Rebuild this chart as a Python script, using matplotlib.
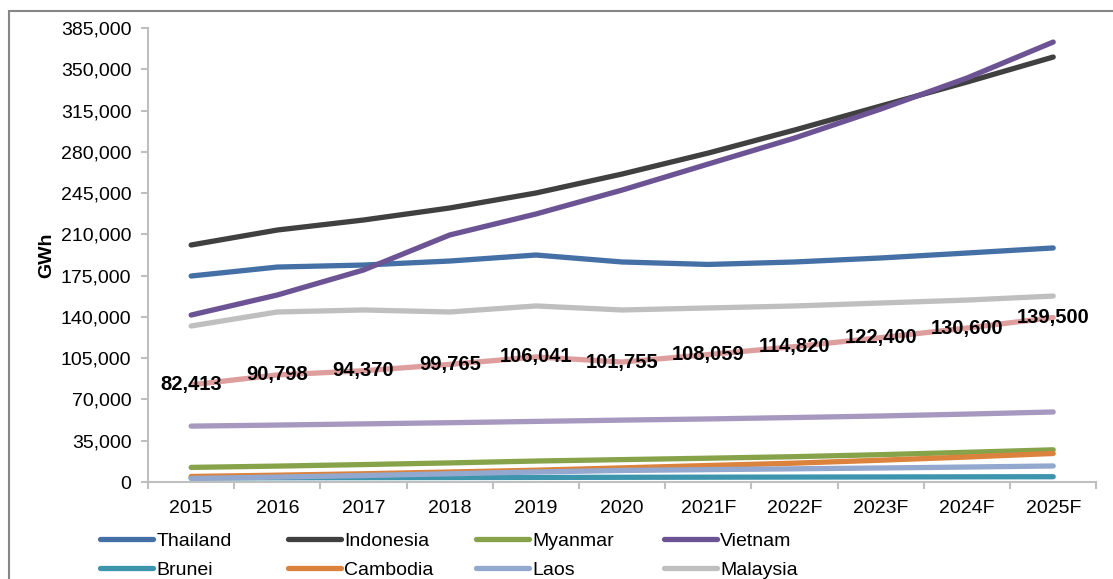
import matplotlib
matplotlib.use("Agg")
import matplotlib.pyplot as plt
from matplotlib.patches import Rectangle
from matplotlib.ticker import FuncFormatter

plt.rcParams['font.family'] = ['Liberation Sans', 'DejaVu Sans']

years = ['2015', '2016', '2017', '2018', '2019', '2020',
         '2021F', '2022F', '2023F', '2024F', '2025F']

thailand = [174700, 182300, 184000, 187400, 192500, 186600,
            184500, 186600, 190000, 194200, 198500]
indonesia = [201000, 213700, 222200, 232400, 245100, 261200,
             279000, 298500, 318900, 339200, 360400]
myanmar = [12400, 13500, 14800, 16200, 17800, 19000,
           20200, 21500, 23200, 25200, 27300]
vietnam = [141600, 158600, 179800, 209500, 227300, 247600,
           269700, 291700, 316300, 342600, 373100]
brunei = [3500, 3600, 3700, 3800, 3900, 4000,
          4100, 4200, 4300, 4400, 4500]
cambodia = [4700, 5800, 7000, 8500, 10000, 12000,
            14000, 16000, 18500, 21200, 24200]
laos = [3000, 4200, 5500, 7000, 8500, 9800,
        10500, 11200, 11900, 12700, 13600]
malaysia = [132300, 144200, 145900, 144200, 149300, 145900,
            147600, 149300, 151800, 154300, 157700]
philippines = [82413, 90798, 94370, 99765, 106041, 101755,
               108059, 114820, 122400, 130600, 139500]
singapore = [47400, 48300, 49300, 50300, 51400, 52500,
             53500, 54700, 56000, 57600, 59400]

series = [
    ('Thailand', thailand, '#4470A6'),
    ('Indonesia', indonesia, '#404040'),
    ('Myanmar', myanmar, '#86A34A'),
    ('Vietnam', vietnam, '#6C5394'),
    ('Brunei', brunei, '#3D95AD'),
    ('Cambodia', cambodia, '#DB833C'),
    ('Laos', laos, '#93A8CE'),
    ('Malaysia', malaysia, '#BFBFBF'),
    ('Philippines', philippines, '#DE9E9E'),
    ('Singapore', singapore, '#A698BF'),
]

fig = plt.figure(figsize=(11.13, 5.79), dpi=100)
ax = fig.add_axes([0.133, 0.1675, 0.852, 0.7841])

x = list(range(len(years)))
handles = {}
for name, vals, col in series:
    ln, = ax.plot(x, vals, color=col, lw=3.8, solid_capstyle='round',
                  solid_joinstyle='round')
    handles[name] = ln

# data labels on the Philippines line
for xi, v in zip(x, philippines):
    ax.text(xi, v, f'{v:,}', ha='center', va='center', fontsize=14.5,
            fontweight='bold', color='black', zorder=5)

ax.set_xlim(-0.5, len(years) - 0.5)
ax.set_ylim(0, 385000)
ax.set_yticks(range(0, 385001, 35000))
ax.yaxis.set_major_formatter(FuncFormatter(lambda v, p: f'{int(v):,}'))

ax.set_xticks([i - 0.5 for i in range(len(years) + 1)])
ax.set_xticklabels([])
ax.set_xticks(x, minor=True)
ax.set_xticklabels(years, minor=True)
ax.tick_params(axis='x', which='major', length=5, width=1.5, color='#BFBFBF')
ax.tick_params(axis='x', which='minor', length=0, pad=13, labelsize=14)
ax.tick_params(axis='y', length=5, width=1.5, color='#BFBFBF', pad=7,
               labelsize=14)

for s in ['top', 'right']:
    ax.spines[s].set_visible(False)
for s in ['left', 'bottom']:
    ax.spines[s].set_color('#BFBFBF')
    ax.spines[s].set_linewidth(1.5)

ax.set_ylabel('GWh', fontsize=14, fontweight='bold', labelpad=4)

# legend columns (the original is cropped after the second row)
columns = [['Thailand', 'Brunei'],
           ['Indonesia', 'Cambodia'],
           ['Myanmar', 'Laos'],
           ['Vietnam', 'Malaysia']]
col_x = [100, 288, 476, 664]
for cx, names in zip(col_x, columns):
    fig.legend([handles[n] for n in names], names,
               loc='upper left', bbox_to_anchor=(cx / 1113, 1 - 532 / 579),
               frameon=False, fontsize=14, handlelength=2.7,
               handletextpad=0.2, labelspacing=0.62,
               borderaxespad=0, borderpad=0)

# outer chart frame (right/bottom edges fall outside the crop)
fig.patches.append(Rectangle((9 / 1113, -0.2), 1.5, 1.2 - 11 / 579,
                             transform=fig.transFigure, fill=False,
                             edgecolor='#868686', lw=1.5))

fig.savefig('out.png', dpi=100)
